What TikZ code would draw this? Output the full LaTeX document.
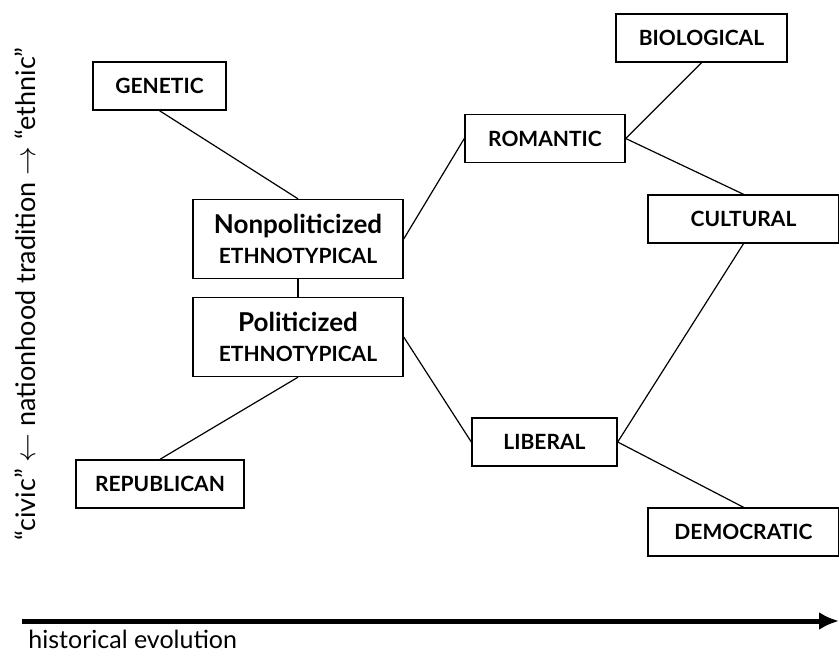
\documentclass[tikz,border=0pt]{standalone}
\usepackage{fontspec}
\setmainfont{Lato}
\usetikzlibrary{arrows.meta}

\tikzset{
	catbox/.style={draw, line width=0.7pt, font=\fontsize{10.5}{12}\selectfont\bfseries, minimum height=24pt, inner sep=0pt},
	ethbox/.style={draw, line width=0.7pt, minimum width=105pt, minimum height=39.5pt, align=center, inner sep=0pt},
	link/.style={line width=0.6pt},
}

\begin{document}
\begin{tikzpicture}[x=0.5pt,y=-0.5pt]
		\useasboundingbox (0,0) rectangle (839,656);

		% central ethnotypical stage
		\node[ethbox] (nonpol) at (298,239) {{\fontsize{13}{15}\selectfont\bfseries Nonpoliticized}\\[3pt]{\fontsize{10.5}{12}\selectfont\bfseries ETHNOTYPICAL}};
		\node[ethbox] (pol) at (298,337) {{\fontsize{13}{15}\selectfont\bfseries Politicized}\\[3pt]{\fontsize{10.5}{12}\selectfont\bfseries ETHNOTYPICAL}};

		\node[catbox, minimum width=66.5pt] (genetic) at (159.5,86) {GENETIC};
		\node[catbox, minimum width=84pt] (republican) at (160,484) {REPUBLICAN};

		\node[catbox, minimum width=80pt] (romantic) at (545,138.5) {ROMANTIC};
		\node[catbox, minimum width=72.5pt] (liberal) at (544.5,442) {LIBERAL};

		\node[catbox, minimum width=85.5pt] (biological) at (701.5,38) {BIOLOGICAL};
		\node[catbox, minimum width=95.5pt] (cultural) at (743.5,219) {CULTURAL};
		\node[catbox, minimum width=95.5pt] (democratic) at (743.5,532) {DEMOCRATIC};

		\draw[link] (genetic.south) -- (nonpol.north);
		\draw[link] (nonpol.south) -- (pol.north);
		\draw[link] (pol.south) -- (republican.north);

		\draw[link] (nonpol.east) -- (romantic.west);
		\draw[link] (pol.east) -- (liberal.west);

		\draw[link] (romantic.east) -- (biological.south);
		\draw[link] (romantic.east) -- (cultural.north);
		\draw[link] (liberal.east) -- (cultural.south);
		\draw[link] (liberal.east) -- (democratic.north);

		% axes
		\coordinate (tstart) at (22,621);
		\coordinate (tend) at (839,621);
		\draw[line width=2.5pt, -{Latex[length=10pt,width=9pt]}] (tstart) -- (tend);
		\node[anchor=north west, font=\fontsize{12.5}{14}\selectfont, inner sep=0pt] (histlabel) at (28,630) {historical evolution};

		\node[rotate=90, font=\fontsize{13.5}{15}\selectfont, inner sep=0pt] (natlabel) at (25,294) {“civic” $\leftarrow$ nationhood tradition $\rightarrow$ “ethnic”};

	\end{tikzpicture}
\end{document}
